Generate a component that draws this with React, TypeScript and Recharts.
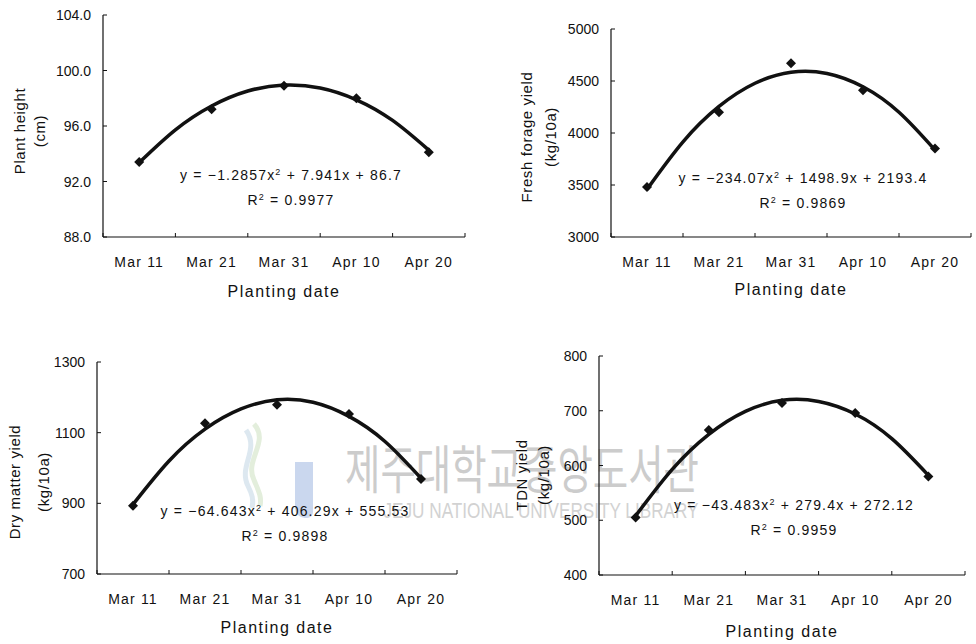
import React from 'react';
import { ComposedChart, Line, XAxis, YAxis } from 'recharts';

// planting dates (categories) and the fitted positions used for the trend curves
const dates = ['Mar 11', 'Mar 21', 'Mar 31', 'Apr 10', 'Apr 20'];
const dateIdx = [1, 2, 3, 4, 5];
const trendX = [1, 1.5, 2, 2.5, 3, 3.5, 4, 4.5, 5];

const heightObs = [93.4, 97.2, 98.9, 98.0, 94.1];
const heightTrend = [93.36, 95.72, 97.44, 98.52, 98.95, 98.74, 97.89, 96.4, 94.26];
const heightTicks = [88, 92, 96, 100, 104];

const freshObs = [3480, 4200, 4670, 4410, 3850];
const freshTrend = [3458, 3915, 4255, 4478, 4584, 4572, 4444, 4199, 3836];
const freshTicks = [3000, 3500, 4000, 4500, 5000];

const dryObs = [893, 1127, 1179, 1153, 969];
const dryTrend = [897, 1020, 1110, 1167, 1193, 1186, 1146, 1075, 971];
const dryTicks = [700, 900, 1100, 1300];

const tdnObs = [505, 665, 714, 696, 580];
const tdnTrend = [508, 593, 657, 699, 719, 717, 694, 649, 582];
const tdnTicks = [400, 500, 600, 700, 800];

const FONT = '"Liberation Sans", Arial, sans-serif';
const INK = '#111';
const Y_W = 60;
const X_H = 50;

function XTick(props: any) {
  const { x, y, payload, step } = props;
  const v = payload.value;
  return (
    <g>
      <line x1={x - step / 2} x2={x - step / 2} y1={y} y2={y - 4} stroke={INK} />
      {v === 5 && <line x1={x + step / 2} x2={x + step / 2} y1={y} y2={y - 4} stroke={INK} />}
      <text x={x} y={y + 25} textAnchor="middle" dominantBaseline="central"
        fontFamily={FONT} fontSize={14} letterSpacing={1.2} fill={INK}>
        {dates[v - 1]}
      </text>
    </g>
  );
}

function YTick(props: any) {
  const { x, y, payload, decimals } = props;
  return (
    <g>
      <line x1={x} x2={x + 4} y1={y} y2={y} stroke={INK} />
      <text x={x - 12} y={y} textAnchor="end" dominantBaseline="central"
        fontFamily={FONT} fontSize={14} fill={INK}>
        {payload.value.toFixed(decimals)}
      </text>
    </g>
  );
}

function Diamond(props: any) {
  const { cx, cy } = props;
  if (cx == null || cy == null) return null;
  const s = 5;
  return <polygon points={`${cx},${cy - s} ${cx + s},${cy} ${cx},${cy + s} ${cx - s},${cy}`} fill={INK} />;
}

type PanelProps = {
  box: number[];   // left, top, width, height
  plot: number[];  // left, top, right, bottom
  obs: number[];
  trend: number[];
  ticks: number[];
  decimals: number;
  yLabel: string[];
  yLabelX: number[];
  yLabelY: number;
  eq: React.ReactNode;
  r2: string;
  eqX: number;
  eqY: number;
  titleY: number;
};

function Panel(p: PanelProps) {
  const [bl, bt, bw, bh] = p.box;
  const [pl, pt, pr, pb] = p.plot;
  const step = (pr - pl) / 5;
  const obsData = dateIdx.map((x, i) => ({ x, y: p.obs[i] }));
  const trendData = trendX.map((x, i) => ({ x, y: p.trend[i] }));
  const margin = { left: pl - bl - Y_W, top: pt - bt, right: bl + bw - pr, bottom: bt + bh - pb - X_H };

  return (
    <>
      <div style={{ position: 'absolute', left: bl, top: bt }}>
        <ComposedChart width={bw} height={bh} margin={margin}>
          <XAxis dataKey="x" type="number" domain={[0.5, 5.5]} ticks={dateIdx} interval={0}
            height={X_H} tickSize={0} tickMargin={0} tickLine={false}
            axisLine={{ stroke: INK, strokeWidth: 1.2 }}
            tick={(t: any) => <XTick {...t} step={step} />} />
          <YAxis type="number" domain={[p.ticks[0], p.ticks[p.ticks.length - 1]]} ticks={p.ticks}
            interval={0} width={Y_W} tickSize={0} tickMargin={0} tickLine={false}
            axisLine={{ stroke: INK, strokeWidth: 1.2 }}
            tick={(t: any) => <YTick {...t} decimals={p.decimals} />} />
          <Line data={trendData} dataKey="y" type="natural" stroke={INK} strokeWidth={3.5}
            dot={false} isAnimationActive={false} />
          <Line data={obsData} dataKey="y" stroke="none" dot={<Diamond />} activeDot={false}
            isAnimationActive={false} />
        </ComposedChart>
      </div>
      {p.yLabel.map((s, i) => (
        <div key={s} style={{
          position: 'absolute', left: p.yLabelX[i], top: p.yLabelY, whiteSpace: 'nowrap',
          transform: 'translate(-50%, -50%) rotate(-90deg)', fontFamily: FONT, fontSize: 15,
          letterSpacing: 0.6, color: INK, lineHeight: 1,
        }}>{s}</div>
      ))}
      <div style={{
        position: 'absolute', left: (pl + pr) / 2, top: p.titleY, transform: 'translate(-50%, -50%)',
        fontFamily: FONT, fontSize: 16, letterSpacing: 1.5, color: INK, whiteSpace: 'nowrap', lineHeight: 1,
      }}>Planting date</div>
      <div style={{
        position: 'absolute', left: p.eqX, top: p.eqY, transform: 'translate(-50%, -50%)',
        fontFamily: FONT, fontSize: 14, letterSpacing: 1.2, color: INK, whiteSpace: 'nowrap', lineHeight: 1,
      }}>{p.eq}</div>
      <div style={{
        position: 'absolute', left: p.eqX, top: p.eqY + 25, transform: 'translate(-50%, -50%)',
        fontFamily: FONT, fontSize: 14, letterSpacing: 1.2, color: INK, whiteSpace: 'nowrap', lineHeight: 1,
      }}>R<sup style={{ fontSize: 9 }}>2</sup> = {p.r2}</div>
    </>
  );
}

const sup2 = <sup style={{ fontSize: 9 }}>2</sup>;

export default function App() {
  return (
    <div style={{ position: 'absolute', left: 0, top: 0, width: 976, height: 644, background: '#fff', overflow: 'hidden' }}>
      {/* scanned library watermark */}
      <svg style={{ position: 'absolute', left: 240, top: 420 }} width={40} height={90}>
        <path d="M14 4 C 30 22, 4 40, 14 60 C 18 70, 22 76, 20 86" stroke="#e3eedc" strokeWidth={5} fill="none" />
        <path d="M6 10 C 20 30, -2 46, 8 66 C 12 74, 14 80, 12 88" stroke="#dde8f0" strokeWidth={5} fill="none" />
      </svg>
      <div style={{ position: 'absolute', left: 295, top: 462, width: 18, height: 56, background: '#cad7ee', borderRadius: '0 0 6px 10px' }} />
      <div style={{
        position: 'absolute', left: 522, top: 467, transform: 'translate(-50%, -50%) scaleX(0.74)',
        fontFamily: '"Noto Sans CJK KR", sans-serif', fontSize: 52, color: '#cccccc', whiteSpace: 'nowrap', lineHeight: 1,
      }}>제주대학교중앙도서관</div>
      <div style={{
        position: 'absolute', left: 541, top: 511, transform: 'translate(-50%, -50%) scaleX(0.78)',
        fontFamily: FONT, fontSize: 22, color: '#d2d2d2', whiteSpace: 'nowrap', lineHeight: 1,
      }}>JEJU NATIONAL UNIVERSITY LIBRARY</div>

      <Panel box={[0, 0, 488, 322]} plot={[103, 15, 465, 237]} obs={heightObs} trend={heightTrend}
        ticks={heightTicks} decimals={1} yLabel={['Plant height', '(cm)']} yLabelX={[19, 39]} yLabelY={131}
        eq={<>y = −1.2857x{sup2} + 7.941x + 86.7</>} r2="0.9977" eqX={291} eqY={175} titleY={292} />
      <Panel box={[488, 0, 488, 322]} plot={[611, 29, 971, 237]} obs={freshObs} trend={freshTrend}
        ticks={freshTicks} decimals={0} yLabel={['Fresh forage yield', '(kg/10a)']} yLabelX={[526, 550]} yLabelY={137}
        eq={<>y = −234.07x{sup2} + 1498.9x + 2193.4</>} r2="0.9869" eqX={803} eqY={178} titleY={290} />
      <Panel box={[0, 322, 488, 322]} plot={[97, 362, 457, 574]} obs={dryObs} trend={dryTrend}
        ticks={dryTicks} decimals={0} yLabel={['Dry matter yield', '(kg/10a)']} yLabelX={[14, 43]} yLabelY={482}
        eq={<>y = −64.643x{sup2} + 406.29x + 555.53</>} r2="0.9898" eqX={285} eqY={511} titleY={628} />
      <Panel box={[488, 322, 488, 322]} plot={[599, 356, 965, 575]} obs={tdnObs} trend={tdnTrend}
        ticks={tdnTicks} decimals={0} yLabel={['TDN yield', '(kg/10a)']} yLabelX={[521, 543]} yLabelY={475}
        eq={<>y = −43.483x{sup2} + 279.4x + 272.12</>} r2="0.9959" eqX={794} eqY={505} titleY={632} />
    </div>
  );
}
